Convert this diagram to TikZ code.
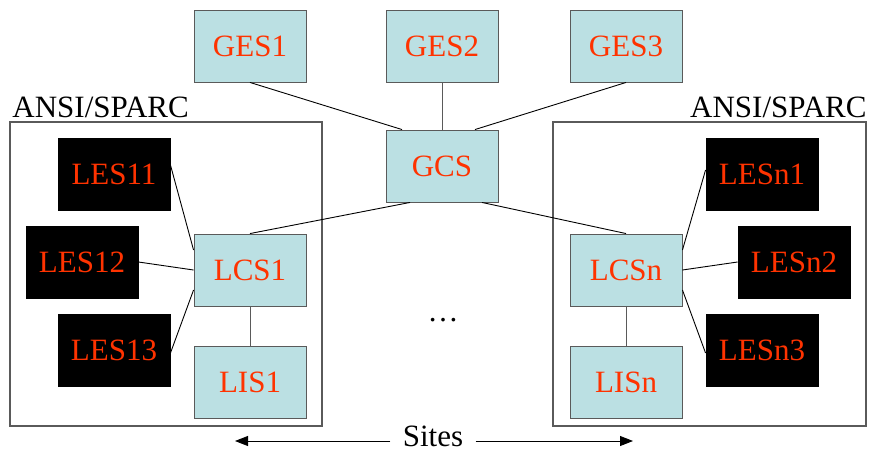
\documentclass[tikz,border=0pt]{standalone}
\usepackage{fontspec}
\setmainfont{Liberation Serif}
\usetikzlibrary{arrows.meta}
\definecolor{boxfill}{HTML}{BBE0E3}
\definecolor{labelred}{HTML}{FF3300}
\definecolor{edgegray}{HTML}{5A5A5A}

\begin{document}
\begin{tikzpicture}[x=1pt,y=-1pt,line width=0.9pt,>={Triangle[length=13pt,width=10pt]},
  font=\fontsize{31}{36}\selectfont,
  schema/.style={draw=edgegray,fill=boxfill,text=labelred,minimum width=112pt,minimum height=72pt,inner sep=0pt},
  local/.style={schema,draw=black,fill=black},
  site/.style={draw=edgegray,line width=1.2pt},
  link/.style={draw=black}]
\useasboundingbox (0,0) rectangle (869,452);
% ---------- sites ----------
\draw[site] (10,122) rectangle (322,426);
\draw[site] (553,122) rectangle (866,426);
\node[anchor=base west,inner sep=0pt] (ansi1) at (12,117) {ANSI/SPARC};
\node[anchor=base east,inner sep=0pt] (ansin) at (867,117) {ANSI/SPARC};
% ---------- global level ----------
\node[schema] (ges1) at (250,46) {GES1};
\node[schema] (ges2) at (442,46) {GES2};
\node[schema] (ges3) at (626,46) {GES3};
\node[schema] (gcs) at (442,166) {GCS};
% ---------- site 1 ----------
\node[schema] (lcs1) at (250,270) {LCS1};
\node[schema] (lis1) at (250,382) {LIS1};
\node[local] (les11) at (114,174) {LES11};
\node[local] (les12) at (82,262) {LES12};
\node[local] (les13) at (114,350) {LES13};
% ---------- site n ----------
\node[schema] (lcsn) at (626,270) {LCSn};
\node[schema] (lisn) at (626,382) {LISn};
\node[local] (lesn1) at (762,174) {LESn1};
\node[local] (lesn2) at (794,262) {LESn2};
\node[local] (lesn3) at (762,350) {LESn3};
% ---------- connectors ----------
\draw[link] (ges1.south) -- ([xshift=-40pt]gcs.north);
\draw[edgegray] (ges2.south) -- (gcs.north);
\draw[link] (ges3.south) -- ([xshift=33pt]gcs.north);
\draw[link] ([xshift=-32pt]gcs.south) -- (lcs1.north);
\draw[link] ([xshift=40pt]gcs.south) -- (lcsn.north);
\draw[link] ([yshift=9pt]les11.east) -- ([yshift=20pt]lcs1.west);
\draw[link] (les12.east) -- (lcs1.west);
\draw[link] ([yshift=-3pt]les13.east) -- ([yshift=-20pt]lcs1.west);
\draw[edgegray] (lcs1.south) -- (lis1.north);
\draw[link] ([yshift=20pt]lcsn.east) -- ([yshift=4pt]lesn1.west);
\draw[link] (lcsn.east) -- (lesn2.west);
\draw[link] ([yshift=-20pt]lcsn.east) -- ([yshift=-3pt]lesn3.west);
\draw[edgegray] (lcsn.south) -- (lisn.north);
% ---------- dots and sites arrow ----------
\node[anchor=base] (dots) at (443,321) {\ldots};
\node[anchor=base,inner xsep=12pt,inner ysep=0pt] (sites) at (433,446) {Sites};
\coordinate (sitesl) at (235,441);
\coordinate (sitesr) at (633,441);
\draw[->] (sites.west |- sitesl) -- (sitesl);
\draw[->] (sites.east |- sitesr) -- (sitesr);
\end{tikzpicture}
\end{document}
